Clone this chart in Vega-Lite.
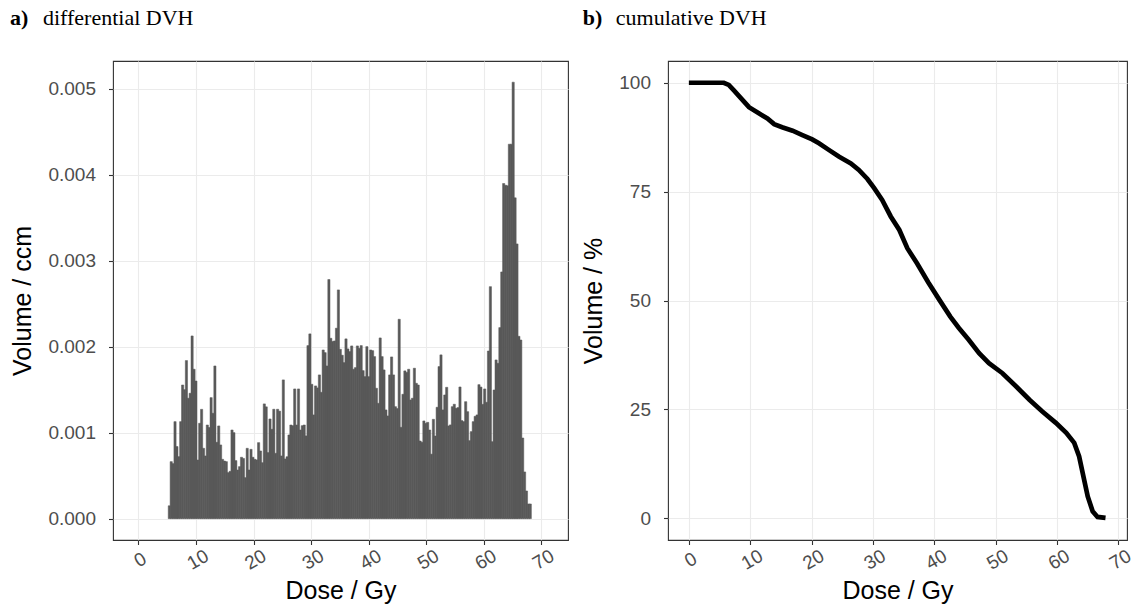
{
  "$schema": "https://vega.github.io/schema/vega-lite/v6.json",
  "background": "white",
  "padding": {"left": 9, "top": 6, "right": 2, "bottom": 0},
  "spacing": 12,
  "config": {
    "view": {"stroke": "#333333", "strokeWidth": 1.1},
    "axis": {
      "grid": true, "gridColor": "#EBEBEB", "gridWidth": 1.1, "domain": false,
      "tickColor": "#333333", "tickSize": 4.5, "tickWidth": 1.1,
      "labelColor": "#4D4D4D", "labelFont": "Liberation Sans", "labelFontSize": 19,
      "titleFont": "Liberation Sans", "titleFontSize": 25, "titleFontWeight": "normal", "titleColor": "black"
    },
    "title": {"anchor": "start", "font": "Liberation Serif", "fontSize": 22, "fontWeight": "bold", "color": "black",
      "subtitleFont": "Liberation Serif", "subtitleFontSize": 22, "subtitleColor": "black", "subtitlePadding": -22, "offset": 31}
  },
  "datasets": {
    "diff": [
      {"dose":5.365,"ccm":0.00015},{"dose":5.695,"ccm":0.000663},{"dose":6.025,"ccm":0.00064},{"dose":6.355,"ccm":0.001128},{"dose":6.685,"ccm":0.000838},
      {"dose":7.015,"ccm":0.000721},{"dose":7.345,"ccm":0.001128},{"dose":7.675,"ccm":0.001554},{"dose":8.005,"ccm":0.0015},{"dose":8.335,"ccm":0.001838},
      {"dose":8.665,"ccm":0.0014},{"dose":8.995,"ccm":0.001458},{"dose":9.325,"ccm":0.002124},{"dose":9.655,"ccm":0.001737},{"dose":9.985,"ccm":0.0016},
      {"dose":10.315,"ccm":0.000682},{"dose":10.645,"ccm":0.001109},{"dose":10.975,"ccm":0.001271},{"dose":11.305,"ccm":0.000818},{"dose":11.635,"ccm":0.000729},
      {"dose":11.965,"ccm":0.001089},{"dose":12.295,"ccm":0.00106},{"dose":12.625,"ccm":0.001407},{"dose":12.955,"ccm":0.001225},{"dose":13.285,"ccm":0.001775},
      {"dose":13.615,"ccm":0.000888},{"dose":13.945,"ccm":0.001078},{"dose":14.275,"ccm":0.000857},{"dose":14.605,"ccm":0.00069},{"dose":14.935,"ccm":0.00067},
      {"dose":15.265,"ccm":0.000663},{"dose":15.595,"ccm":0.000535},{"dose":15.925,"ccm":0.00055},{"dose":16.255,"ccm":0.001031},{"dose":16.585,"ccm":0.001},
      {"dose":16.915,"ccm":0.000675},{"dose":17.245,"ccm":0.000566},{"dose":17.575,"ccm":0.000605},{"dose":17.905,"ccm":0.000714},{"dose":18.235,"ccm":0.0007},
      {"dose":18.565,"ccm":0.000477},{"dose":18.895,"ccm":0.000818},{"dose":19.225,"ccm":0.000566},{"dose":19.555,"ccm":0.000806},{"dose":19.885,"ccm":0.000714},
      {"dose":20.215,"ccm":0.00069},{"dose":20.545,"ccm":0.000683},{"dose":20.875,"ccm":0.000884},{"dose":21.205,"ccm":0.000787},{"dose":21.535,"ccm":0.000651},
      {"dose":21.865,"ccm":0.001334},{"dose":22.195,"ccm":0.0013},{"dose":22.525,"ccm":0.000768},{"dose":22.855,"ccm":0.001159},{"dose":23.185,"ccm":0.001039},
      {"dose":23.515,"ccm":0.001272},{"dose":23.845,"ccm":0.00076},{"dose":24.175,"ccm":0.001272},{"dose":24.505,"ccm":0.00125},{"dose":24.835,"ccm":0.000729},
      {"dose":25.165,"ccm":0.001613},{"dose":25.495,"ccm":0.000694},{"dose":25.825,"ccm":0.00072},{"dose":26.155,"ccm":0.000973},{"dose":26.485,"ccm":0.001089},
      {"dose":26.815,"ccm":0.001081},{"dose":27.145,"ccm":0.001508},{"dose":27.475,"ccm":0.001089},{"dose":27.805,"ccm":0.001508},{"dose":28.135,"ccm":0.001031},
      {"dose":28.465,"ccm":0.001081},{"dose":28.795,"ccm":0.001089},{"dose":29.125,"ccm":0.000962},{"dose":29.455,"ccm":0.002012},{"dose":29.785,"ccm":0.002148},
      {"dose":30.115,"ccm":0.001562},{"dose":30.445,"ccm":0.001206},{"dose":30.775,"ccm":0.001543},{"dose":31.105,"ccm":0.00152},{"dose":31.435,"ccm":0.001671},
      {"dose":31.765,"ccm":0.001469},{"dose":32.095,"ccm":0.001961},{"dose":32.425,"ccm":0.00193},{"dose":32.755,"ccm":0.001775},{"dose":33.085,"ccm":0.00278},
      {"dose":33.415,"ccm":0.002097},{"dose":33.745,"ccm":0.00206},{"dose":34.075,"ccm":0.002066},{"dose":34.405,"ccm":0.002214},{"dose":34.735,"ccm":0.002659},
      {"dose":35.065,"ccm":0.001969},{"dose":35.395,"ccm":0.0019},{"dose":35.725,"ccm":0.001814},{"dose":36.055,"ccm":0.00209},{"dose":36.385,"ccm":0.001973},
      {"dose":36.715,"ccm":0.001942},{"dose":37.045,"ccm":0.002008},{"dose":37.375,"ccm":0.001737},{"dose":37.705,"ccm":0.001756},{"dose":38.035,"ccm":0.002008},
      {"dose":38.365,"ccm":0.00198},{"dose":38.695,"ccm":0.002012},{"dose":39.025,"ccm":0.001721},{"dose":39.355,"ccm":0.001651},{"dose":39.685,"ccm":0.002},
      {"dose":40.015,"ccm":0.001651},{"dose":40.345,"ccm":0.001961},{"dose":40.675,"ccm":0.001953},{"dose":41.005,"ccm":0.001884},{"dose":41.335,"ccm":0.001516},
      {"dose":41.665,"ccm":0.001341},{"dose":41.995,"ccm":0.002101},{"dose":42.325,"ccm":0.001884},{"dose":42.655,"ccm":0.001729},{"dose":42.985,"ccm":0.001264},
      {"dose":43.315,"ccm":0.001194},{"dose":43.645,"ccm":0.001671},{"dose":43.975,"ccm":0.00188},{"dose":44.305,"ccm":0.001671},{"dose":44.635,"ccm":0.001302},
      {"dose":44.965,"ccm":0.00128},{"dose":45.295,"ccm":0.002318},{"dose":45.625,"ccm":0.001062},{"dose":45.955,"ccm":0.001446},{"dose":46.285,"ccm":0.001718},
      {"dose":46.615,"ccm":0.0017},{"dose":46.945,"ccm":0.001737},{"dose":47.275,"ccm":0.00138},{"dose":47.605,"ccm":0.0014},{"dose":47.935,"ccm":0.001749},
      {"dose":48.265,"ccm":0.001574},{"dose":48.595,"ccm":0.001554},{"dose":48.925,"ccm":0.000903},{"dose":49.255,"ccm":0.000888},{"dose":49.585,"ccm":0.001136},
      {"dose":49.915,"ccm":0.001109},{"dose":50.245,"ccm":0.00112},{"dose":50.575,"ccm":0.001031},{"dose":50.905,"ccm":0.00075},{"dose":51.235,"ccm":0.001155},
      {"dose":51.565,"ccm":0.000961},{"dose":51.895,"ccm":0.001295},{"dose":52.225,"ccm":0.001768},{"dose":52.555,"ccm":0.001904},{"dose":52.885,"ccm":0.001264},
      {"dose":53.215,"ccm":0.001438},{"dose":53.545,"ccm":0.001527},{"dose":53.875,"ccm":0.001078},{"dose":54.205,"ccm":0.00109},{"dose":54.535,"ccm":0.001302},
      {"dose":54.865,"ccm":0.00133},{"dose":55.195,"ccm":0.001283},{"dose":55.525,"ccm":0.001291},{"dose":55.855,"ccm":0.001531},{"dose":56.185,"ccm":0.00114},
      {"dose":56.515,"ccm":0.001128},{"dose":56.845,"ccm":0.00136},{"dose":57.175,"ccm":0.001244},{"dose":57.505,"ccm":0.000907},{"dose":57.835,"ccm":0.001012},
      {"dose":58.165,"ccm":0.001128},{"dose":58.495,"ccm":0.00119},{"dose":58.825,"ccm":0.001206},{"dose":59.155,"ccm":0.001558},{"dose":59.485,"ccm":0.00153},
      {"dose":59.815,"ccm":0.001329},{"dose":60.145,"ccm":0.001508},{"dose":60.475,"ccm":0.001353},{"dose":60.805,"ccm":0.001949},{"dose":61.135,"ccm":0.002697},
      {"dose":61.465,"ccm":0.000895},{"dose":61.795,"ccm":0.001496},{"dose":62.125,"ccm":0.001845},{"dose":62.455,"ccm":0.001806},{"dose":62.785,"ccm":0.002221},
      {"dose":63.115,"ccm":0.002868},{"dose":63.445,"ccm":0.003896},{"dose":63.775,"ccm":0.003876},{"dose":64.105,"ccm":0.00387},{"dose":64.435,"ccm":0.004353},
      {"dose":64.765,"ccm":0.004353},{"dose":65.095,"ccm":0.005074},{"dose":65.425,"ccm":0.003729},{"dose":65.755,"ccm":0.003194},{"dose":66.085,"ccm":0.00212},
      {"dose":66.415,"ccm":0.002077},{"dose":66.745,"ccm":0.000938},{"dose":67.075,"ccm":0.000543},{"dose":67.405,"ccm":0.000322},{"dose":67.735,"ccm":0.000171},
      {"dose":68.065,"ccm":0.000171}
    ],
    "cum": [
      {"dose":0,"vol":100},{"dose":1,"vol":100},{"dose":2,"vol":100},{"dose":3,"vol":100},{"dose":4,"vol":100},{"dose":5,"vol":100},
      {"dose":5.7,"vol":100},{"dose":6.5,"vol":99.5},{"dose":7.3,"vol":98.3},{"dose":8.4,"vol":96.6},{"dose":9.8,"vol":94.4},
      {"dose":11.4,"vol":93.0},{"dose":12.8,"vol":91.8},{"dose":13.9,"vol":90.5},{"dose":15.2,"vol":89.8},{"dose":16.9,"vol":89.0},
      {"dose":18.5,"vol":88.0},{"dose":20.1,"vol":87.0},{"dose":21.2,"vol":86.1},{"dose":22.8,"vol":84.6},{"dose":24.5,"vol":83.0},
      {"dose":26.4,"vol":81.5},{"dose":27.7,"vol":80.0},{"dose":29.1,"vol":77.9},{"dose":30.2,"vol":75.8},{"dose":31.5,"vol":73.1},
      {"dose":32.9,"vol":69.3},{"dose":34.3,"vol":66.2},{"dose":35.6,"vol":62.0},{"dose":37.2,"vol":58.5},{"dose":39.0,"vol":54.2},
      {"dose":40.8,"vol":50.2},{"dose":42.6,"vol":46.3},{"dose":44.0,"vol":43.7},{"dose":45.6,"vol":41.0},{"dose":47.3,"vol":37.9},
      {"dose":48.9,"vol":35.6},{"dose":51.1,"vol":33.3},{"dose":53.3,"vol":30.3},{"dose":55.5,"vol":27.2},{"dose":57.6,"vol":24.5},
      {"dose":59.8,"vol":21.9},{"dose":61.5,"vol":19.6},{"dose":62.8,"vol":17.3},{"dose":63.6,"vol":14.2},{"dose":64.3,"vol":9.6},
      {"dose":65.0,"vol":5.0},{"dose":65.8,"vol":1.6},{"dose":66.6,"vol":0.3},{"dose":67.9,"vol":0.1}
    ]
  },
  "hconcat": [
    {
      "width": 455, "height": 479,
      "data": {"name": "diff"},
      "title": {"text": "a)", "subtitle": "\u200b\u00a0\u00a0\u00a0\u00a0\u00a0\u00a0differential DVH", "dx": -1},
      "mark": {"type": "bar", "color": "#595959", "width": 2.2, "stroke": "#595959", "strokeWidth": 0.5},
      "encoding": {
        "x": {"field": "dose", "type": "quantitative",
          "scale": {"domain": [-3.55, 73.75], "nice": false, "zero": false},
          "axis": {"values": [0,10,20,30,40,50,60,70], "labelAngle": -30, "labelAlign": "center", "labelBaseline": "top", "labelPadding": 7, "labelOffset": -3, "title": "Dose / Gy", "titlePadding": 5}},
        "y": {"field": "ccm", "type": "quantitative",
          "scale": {"domain": [-0.000248, 0.00532], "nice": false, "zero": false},
          "axis": {"values": [0,0.001,0.002,0.003,0.004,0.005], "format": ".3f", "title": "Volume / ccm", "labelPadding": 13, "titlePadding": 12}}
      }
    },
    {
      "width": 459, "height": 479,
      "data": {"name": "cum"},
      "title": {"text": "b)", "subtitle": "\u200b\u00a0\u00a0\u00a0\u00a0\u00a0\u00a0cumulative DVH", "dx": 1},
      "mark": {"type": "line", "color": "black", "strokeWidth": 4.7},
      "encoding": {
        "x": {"field": "dose", "type": "quantitative",
          "scale": {"domain": [-3.4, 71.4], "nice": false, "zero": false},
          "axis": {"values": [0,10,20,30,40,50,60,70], "labelAngle": -30, "labelAlign": "center", "labelBaseline": "top", "labelPadding": 7, "labelOffset": -3, "title": "Dose / Gy", "titlePadding": 5}},
        "y": {"field": "vol", "type": "quantitative",
          "scale": {"domain": [-5, 105], "nice": false, "zero": false},
          "axis": {"values": [0,25,50,75,100], "title": "Volume / %", "labelPadding": 13, "titlePadding": 12}}
      }
    }
  ]
}
